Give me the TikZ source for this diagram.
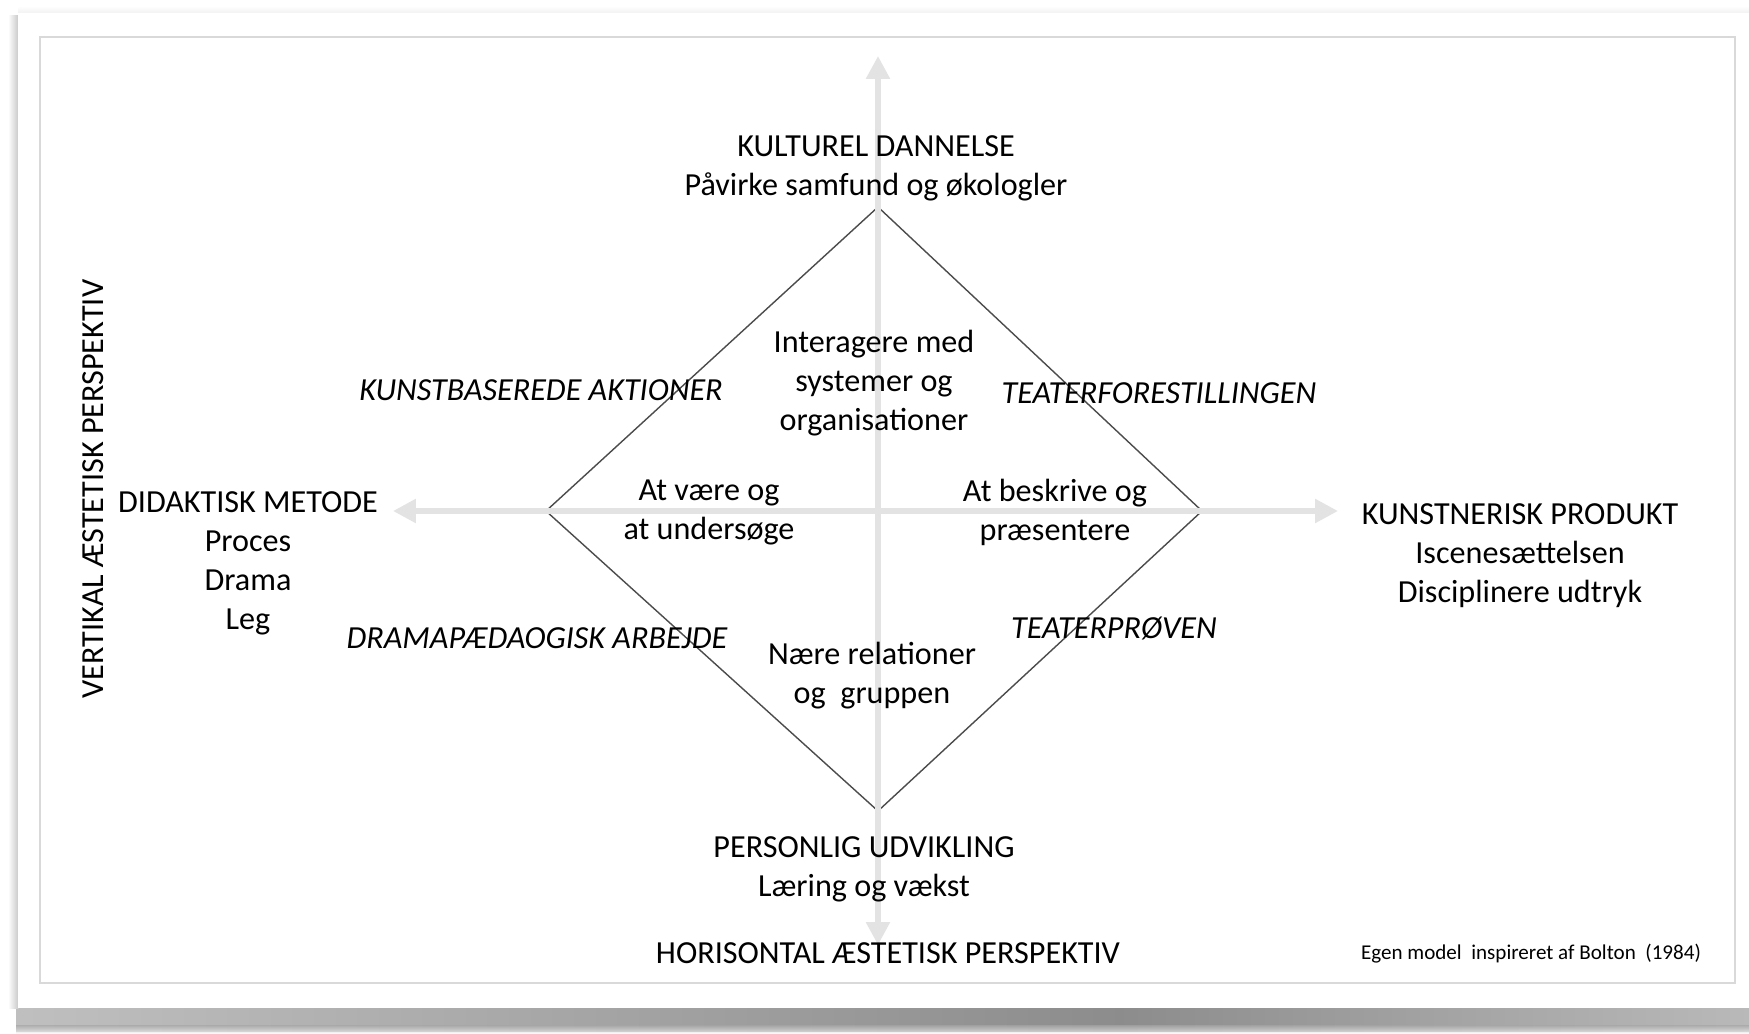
\documentclass[tikz,border=0pt]{standalone}
\usepackage{fontspec}
\setmainfont{Carlito}
\usetikzlibrary{arrows.meta,positioning,fadings}

\begin{document}
\begin{tikzpicture}[
  x=0.02cm,y=-0.02cm,
  lbl/.style={align=center,font=\fontsize{18.3}{22.2}\selectfont,inner sep=0pt},
  act/.style={font=\fontsize{18.3}{22.2}\selectfont\itshape,inner sep=0pt},
  axis/.style={draw=gray!22,line width=0.11cm,{Triangle[length=0.46cm,width=0.46cm]}-{Triangle[length=0.46cm,width=0.46cm]}},
  rhomb/.style={draw=black!70,line width=0.8pt}
]
  \useasboundingbox (0,0) rectangle (1749,1034);
  % card with shadow
  \shade[left color=gray!50,right color=gray!90] (16,1004) rectangle (1120,1031);
  \shade[left color=gray!90,right color=gray!55] (1120,1004) rectangle (1749,1031);
  \shade[top color=gray!70,bottom color=white,opacity=0.7] (16,1025) rectangle (1749,1034);
  \shade[left color=white,right color=gray!45] (8,16) rectangle (19,1008);
  \shade[top color=white,bottom color=gray!12] (18,6) rectangle (1749,14);
  \fill[white] (18,13) rectangle (1749,1008);
  \draw[gray!30,line width=0.6pt] (40,37) rectangle (1735,983);
  % diamond
  \coordinate (dt) at (878,207);
  \coordinate (dl) at (546,511);
  \coordinate (dr) at (1202,511);
  \coordinate (db) at (878,811);
  \draw[rhomb] (dt) -- (dr) -- (db) -- (dl) -- cycle;
  % axes
  \coordinate (atop) at (878,56);
  \coordinate (abot) at (878,945);
  \coordinate (aleft) at (393,511);
  \coordinate (aright) at (1338,511);
  \draw[axis] (abot) -- (atop);
  \draw[axis] (aleft) -- (aright);
  % poles
  \node[lbl] (kultur) at (876,168) {KULTUREL DANNELSE\\Påvirke samfund og økologler};
  \node[lbl] (didak) at (248,563) {DIDAKTISK METODE\\Proces\\Drama\\Leg};
  \node[lbl] (kunst) at (1520,556) {KUNSTNERISK PRODUKT\\Iscenesættelsen\\Disciplinere udtryk};
  \node[lbl] (person) at (864,869) {PERSONLIG UDVIKLING\\Læring og vækst};
  % inner fields
  \node[lbl] (system) at (874,383) {Interagere med\\systemer og\\organisationer};
  \node[lbl] (vaere) at (709,512) {At være og\\at undersøge};
  \node[lbl] (beskriv) at (1055,512) {At beskrive og\\præsentere};
  \node[lbl] (naere) at (872,676) {Nære relationer\\og~~gruppen};
  % activities
  \node[act] (aktion) at (541,390) {KUNSTBASEREDE AKTIONER};
  \node[act] (forest) at (1159,393) {TEATERFORESTILLINGEN};
  \node[act] (drama) at (537,638) {DRAMAPÆDAOGISK ARBEJDE};
  \node[act] (proeve) at (1114,629) {TEATERPRØVEN};
  % perspectives
  \node[lbl] (horis) at (888,953) {HORISONTAL ÆSTETISK PERSPEKTIV};
  \node[lbl,rotate=90] (vertik) at (93,489) {VERTIKAL ÆSTETISK PERSPEKTIV};
  \node[font=\fontsize{12}{14}\selectfont,inner sep=0pt] (kilde) at (1531,954) {Egen model~ inspireret af Bolton~ (1984)};
\end{tikzpicture}
\end{document}
